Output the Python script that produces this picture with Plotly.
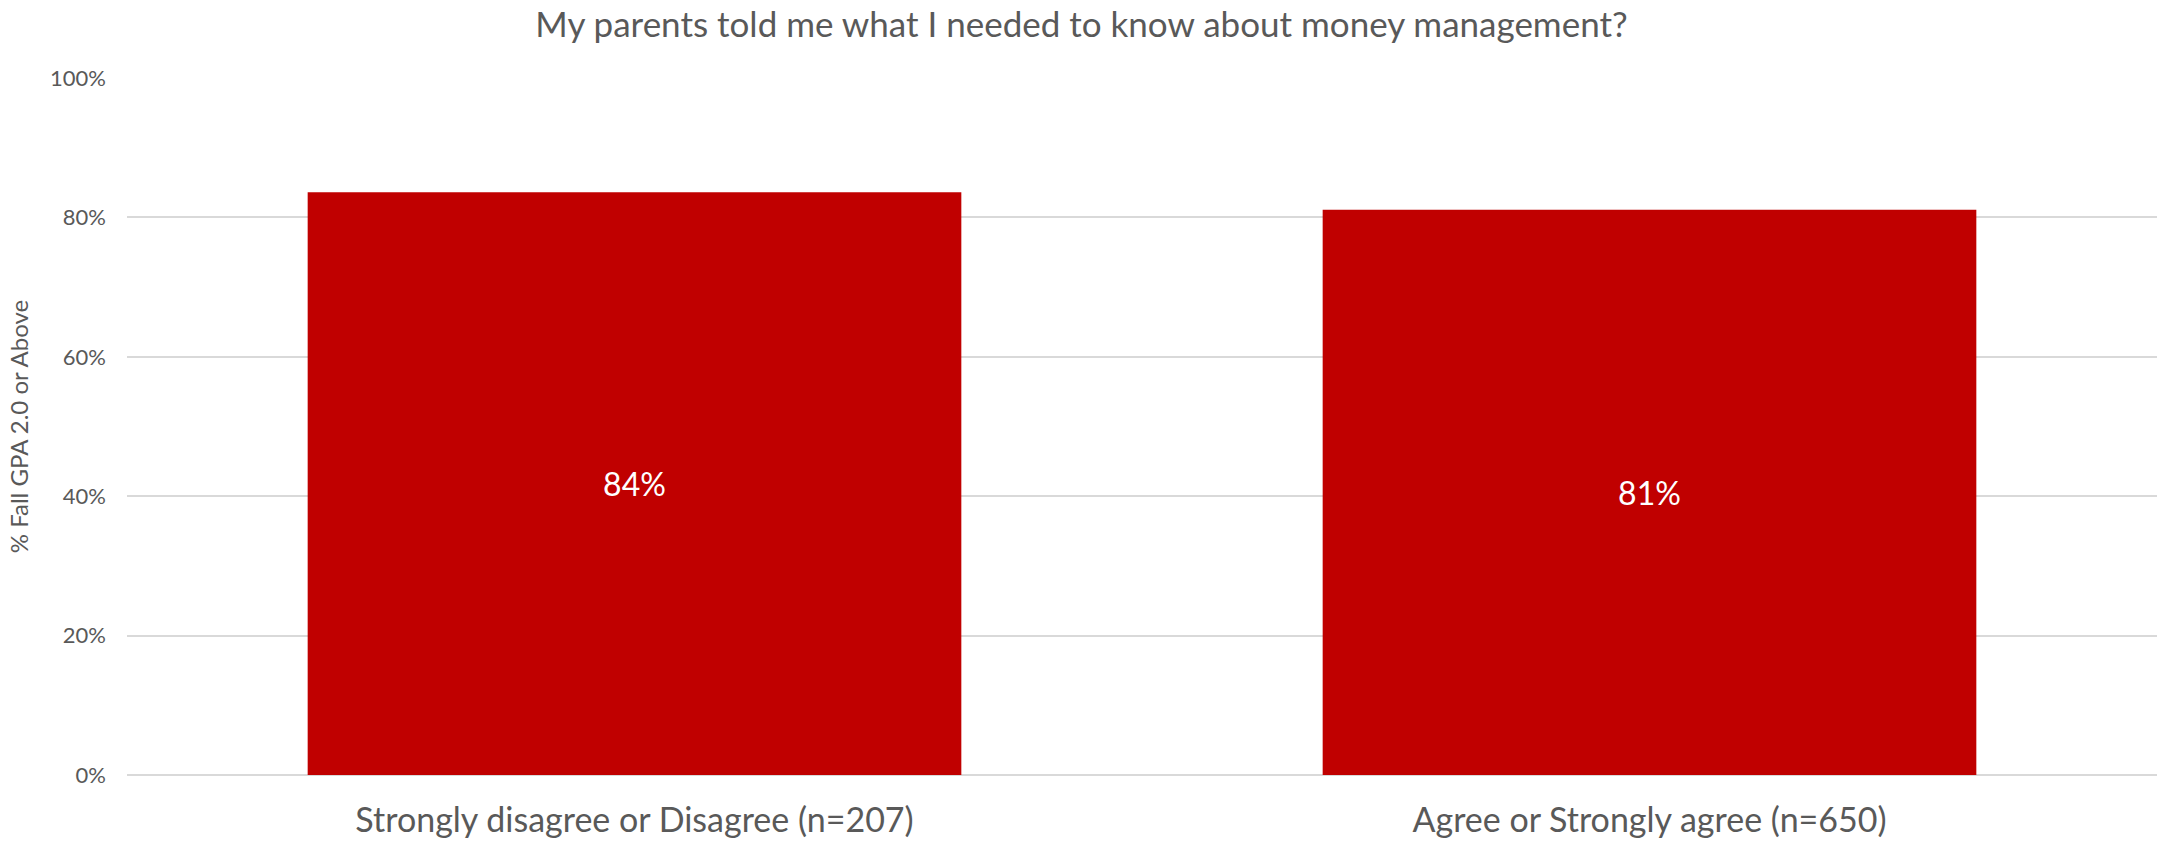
import plotly.graph_objects as go

# Survey response groups and share of students with fall GPA >= 2.0
categories = ["Strongly disagree or Disagree (n=207)", "Agree or Strongly agree (n=650)"]
pct_gpa_ok = [0.836, 0.811]
y_ticks = [0, 0.2, 0.4, 0.6, 0.8, 1.0]
y_tick_labels = ["0%", "20%", "40%", "60%", "80%", "100%"]

title_text = "My parents told me what I needed to know about money management?"
y_title = "% Fall GPA 2.0 or Above"

FONT = "Lato"
GRAY = "#595959"

fig = go.Figure(
    go.Bar(
        x=categories,
        y=pct_gpa_ok,
        marker=dict(color="#C00000", line=dict(width=0)),
        width=0.644,
        text=pct_gpa_ok,
        texttemplate="%{text:.0%}",
        textposition="inside",
        insidetextanchor="middle",
        textfont=dict(family=FONT, size=32, color="white"),
        hoverinfo="skip",
    )
)

fig.update_layout(
    width=2163,
    height=844,
    margin=dict(l=127, r=6, t=78, b=69),
    paper_bgcolor="white",
    plot_bgcolor="white",
    showlegend=False,
    font=dict(family=FONT, color=GRAY),
    title=dict(
        text=title_text,
        x=0.5,
        xanchor="center",
        y=1 - 25 / 844,
        yanchor="middle",
        font=dict(family=FONT, size=35, color=GRAY),
    ),
    xaxis=dict(
        showgrid=False,
        showline=False,
        ticks="",
        ticklabelstandoff=22,
        tickfont=dict(family=FONT, size=34, color=GRAY),
    ),
    yaxis=dict(
        range=[0, 1.0],
        tickvals=y_ticks,
        ticktext=y_tick_labels,
        showgrid=True,
        gridcolor="#D9D9D9",
        gridwidth=1.5,
        zeroline=True,
        zerolinecolor="#D9D9D9",
        zerolinewidth=1.5,
        showline=False,
        ticks="",
        ticklabelstandoff=20,
        tickfont=dict(family=FONT, size=22, color=GRAY),
        title=dict(text=y_title, standoff=14, font=dict(family=FONT, size=24, color=GRAY)),
    ),
)

fig.write_html("out.html")
